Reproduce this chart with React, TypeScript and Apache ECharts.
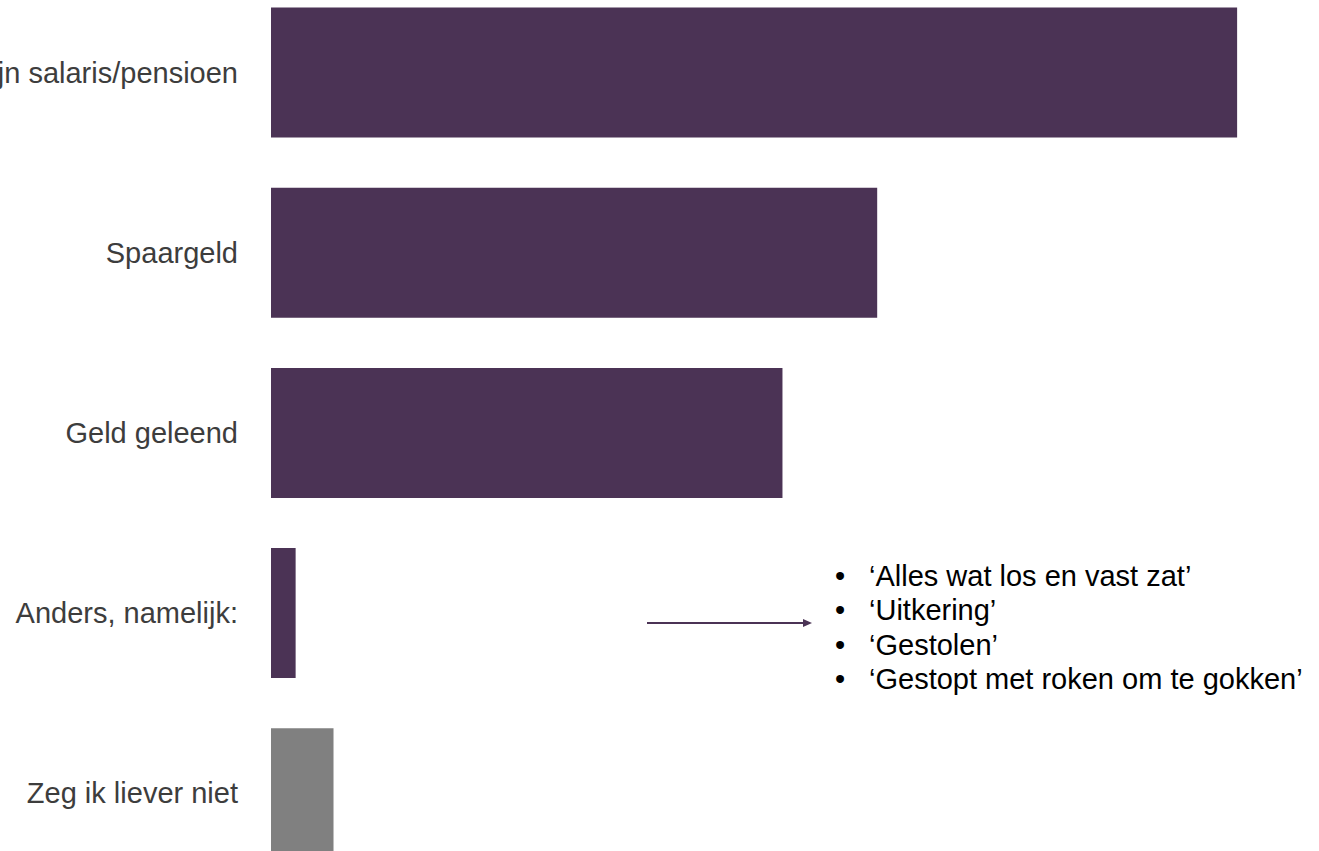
import React, { useEffect, useRef } from "react";
import * as echarts from "echarts";

const categories = [
  "Mijn salaris/pensioen",
  "Spaargeld",
  "Geld geleend",
  "Anders, namelijk:",
  "Zeg ik liever niet",
];
const values = [51, 32, 27, 1.3, 3.3];
const barColors = ["#4B3355", "#4B3355", "#4B3355", "#4B3355", "#808080"];
const otherAnswers = [
  "‘Alles wat los en vast zat’",
  "‘Uitkering’",
  "‘Gestolen’",
  "‘Gestopt met roken om te gokken’",
];

const FONT = "'Helvetica Neue', Helvetica, Arial, 'Liberation Sans', sans-serif";

export default function App() {
  const ref = useRef<HTMLDivElement>(null);

  useEffect(() => {
    if (!ref.current) return;
    const chart = echarts.init(ref.current, undefined, { renderer: "svg" });

    const listTop = 575.5;
    const lineH = 34.5;
    const listGraphics: any[] = [];
    otherAnswers.forEach((t, i) => {
      const y = listTop + i * lineH;
      listGraphics.push({
        type: "text",
        x: 840,
        y,
        style: {
          text: "•",
          fontSize: 29,
          fontFamily: FONT,
          fill: "#000000",
          align: "center",
          verticalAlign: "middle",
        },
      });
      listGraphics.push({
        type: "text",
        x: 869,
        y,
        style: {
          text: t,
          fontSize: 29,
          fontFamily: FONT,
          fill: "#000000",
          align: "left",
          verticalAlign: "middle",
        },
      });
    });

    chart.setOption({
      animation: false,
      backgroundColor: "#ffffff",
      grid: {
        left: 271,
        right: 44,
        top: -17.6,
        height: 901,
        containLabel: false,
        outerBoundsMode: "none",
      },
      xAxis: {
        type: "value",
        min: 0,
        max: 53,
        show: false,
        splitLine: { show: false },
      },
      yAxis: {
        type: "category",
        data: categories,
        inverse: true,
        axisLine: { show: false },
        axisTick: { show: false },
        axisLabel: {
          margin: 33,
          fontSize: 29,
          fontFamily: FONT,
          color: "#3d3d3d",
        },
      },
      series: [
        {
          type: "bar",
          data: values.map((v, i) => ({ value: v, itemStyle: { color: barColors[i] } })),
          barWidth: 130,
          label: { show: false },
        },
      ],
      graphic: [
        {
          type: "line",
          shape: { x1: 647, y1: 623, x2: 804, y2: 623 },
          style: { stroke: "#4B3355", lineWidth: 2 },
        },
        {
          type: "polygon",
          shape: { points: [[803, 619], [812, 623], [803, 627]] },
          style: { fill: "#4B3355" },
        },
        ...listGraphics,
      ],
    });

    return () => chart.dispose();
  }, []);

  return (
    <div
      ref={ref}
      style={{ position: "fixed", left: 0, top: 0, width: 1319, height: 851, background: "#fff" }}
    />
  );
}
